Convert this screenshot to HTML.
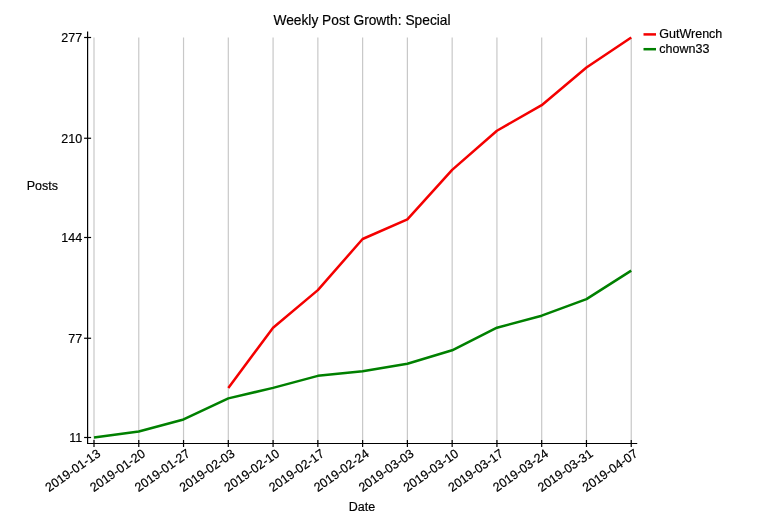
<!DOCTYPE html>
<html lang="en">
<head>
<meta charset="utf-8">
<title>Weekly Post Growth: Special</title>
<style>
html,body{margin:0;padding:0;background:#fff;}
body{width:775px;height:525px;overflow:hidden;}
svg{display:block;font-family:"Liberation Sans",sans-serif;}
text{fill:#000;stroke:#000;stroke-width:0.18px;}
</style>
</head>
<body>
<svg width="775" height="525" viewBox="0 0 775 525">
<rect x="0" y="0" width="775" height="525" fill="#ffffff"/>
<g stroke="#c8c8c8" stroke-width="1.2" fill="none">
<line x1="94.00" y1="37.50" x2="94.00" y2="443.50"/>
<line x1="138.77" y1="37.50" x2="138.77" y2="443.50"/>
<line x1="183.54" y1="37.50" x2="183.54" y2="443.50"/>
<line x1="228.31" y1="37.50" x2="228.31" y2="443.50"/>
<line x1="273.08" y1="37.50" x2="273.08" y2="443.50"/>
<line x1="317.85" y1="37.50" x2="317.85" y2="443.50"/>
<line x1="362.62" y1="37.50" x2="362.62" y2="443.50"/>
<line x1="407.39" y1="37.50" x2="407.39" y2="443.50"/>
<line x1="452.16" y1="37.50" x2="452.16" y2="443.50"/>
<line x1="496.93" y1="37.50" x2="496.93" y2="443.50"/>
<line x1="541.70" y1="37.50" x2="541.70" y2="443.50"/>
<line x1="586.47" y1="37.50" x2="586.47" y2="443.50"/>
<line x1="631.24" y1="37.50" x2="631.24" y2="443.50"/>
</g>
<g stroke="#000" stroke-width="1.2" fill="none">
<path d="M87.60,31.50 V443.50 H637.24"/>
<line x1="84.10" x2="91.10" y1="37.50" y2="37.50"/>
<line x1="84.10" x2="91.10" y1="138.25" y2="138.25"/>
<line x1="84.10" x2="91.10" y1="237.50" y2="237.50"/>
<line x1="84.10" x2="91.10" y1="338.25" y2="338.25"/>
<line x1="84.10" x2="91.10" y1="437.50" y2="437.50"/>
<line x1="94.00" x2="94.00" y1="440.00" y2="447.00"/>
<line x1="138.77" x2="138.77" y1="440.00" y2="447.00"/>
<line x1="183.54" x2="183.54" y1="440.00" y2="447.00"/>
<line x1="228.31" x2="228.31" y1="440.00" y2="447.00"/>
<line x1="273.08" x2="273.08" y1="440.00" y2="447.00"/>
<line x1="317.85" x2="317.85" y1="440.00" y2="447.00"/>
<line x1="362.62" x2="362.62" y1="440.00" y2="447.00"/>
<line x1="407.39" x2="407.39" y1="440.00" y2="447.00"/>
<line x1="452.16" x2="452.16" y1="440.00" y2="447.00"/>
<line x1="496.93" x2="496.93" y1="440.00" y2="447.00"/>
<line x1="541.70" x2="541.70" y1="440.00" y2="447.00"/>
<line x1="586.47" x2="586.47" y1="440.00" y2="447.00"/>
<line x1="631.24" x2="631.24" y1="440.00" y2="447.00"/>
</g>
<path d="M94.00,437.50 L138.77,431.48 L183.54,419.45 L228.31,398.40 L273.08,387.88 L317.85,375.85 L362.62,371.33 L407.39,363.82 L452.16,350.28 L496.93,327.73 L541.70,315.70 L586.47,299.15 L631.24,270.58" stroke="#008000" stroke-width="2.5" fill="none" stroke-linejoin="round" stroke-linecap="butt"/>
<path d="M228.31,387.88 L273.08,327.73 L317.85,290.13 L362.62,239.00 L407.39,219.45 L452.16,169.83 L496.93,130.73 L541.70,105.17 L586.47,67.58 L631.24,37.50" stroke="#f40000" stroke-width="2.5" fill="none" stroke-linejoin="round" stroke-linecap="butt"/>
<g font-size="12.5" text-anchor="end">
<text x="82.20" y="42.00">277</text>
<text x="82.20" y="142.75">210</text>
<text x="82.20" y="242.00">144</text>
<text x="82.20" y="342.75">77</text>
<text x="82.20" y="442.00">11</text>
</g>
<g font-size="12.5" text-anchor="end">
<text transform="translate(101.40,455.50) rotate(-35)">2019-01-13</text>
<text transform="translate(146.17,455.50) rotate(-35)">2019-01-20</text>
<text transform="translate(190.94,455.50) rotate(-35)">2019-01-27</text>
<text transform="translate(235.71,455.50) rotate(-35)">2019-02-03</text>
<text transform="translate(280.48,455.50) rotate(-35)">2019-02-10</text>
<text transform="translate(325.25,455.50) rotate(-35)">2019-02-17</text>
<text transform="translate(370.02,455.50) rotate(-35)">2019-02-24</text>
<text transform="translate(414.79,455.50) rotate(-35)">2019-03-03</text>
<text transform="translate(459.56,455.50) rotate(-35)">2019-03-10</text>
<text transform="translate(504.33,455.50) rotate(-35)">2019-03-17</text>
<text transform="translate(549.10,455.50) rotate(-35)">2019-03-24</text>
<text transform="translate(593.87,455.50) rotate(-35)">2019-03-31</text>
<text transform="translate(638.64,455.50) rotate(-35)">2019-04-07</text>
</g>
<text x="362" y="24.8" font-size="13.75" text-anchor="middle">Weekly Post Growth: Special</text>
<text x="42.3" y="189.8" font-size="12.5" text-anchor="middle">Posts</text>
<text x="362" y="510.6" font-size="12.5" text-anchor="middle">Date</text>
<line x1="643.5" x2="656" y1="34.4" y2="34.4" stroke="#f40000" stroke-width="2.5"/>
<line x1="643.5" x2="656" y1="49.2" y2="49.2" stroke="#008000" stroke-width="2.5"/>
<text x="659.3" y="37.7" font-size="12.5">GutWrench</text>
<text x="659.3" y="52.6" font-size="12.5">chown33</text>
</svg>
</body>
</html>
